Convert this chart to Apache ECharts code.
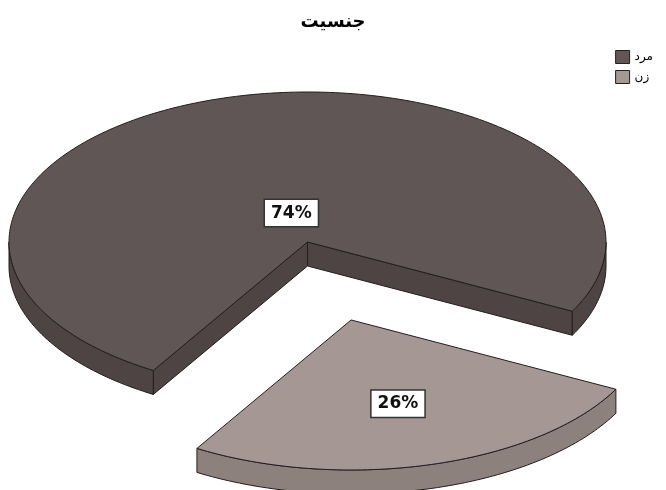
<!DOCTYPE html>
<html>
<head>
<meta charset="utf-8">
<script src="https://cdn.jsdelivr.net/npm/echarts@6/dist/echarts.min.js"></script>
<style>
  html, body { margin: 0; padding: 0; background: #ffffff; }
  #chart { width: 666px; height: 490px; }
</style>
</head>
<body>
<div id="chart"></div>
<script>
// Gender share, drawn as a tilted pie with the second slice pulled out
const chartTitle = 'جنسیت';
const categories = ['مرد', 'زن'];
const values = [74, 26];

// Look of the pie
const topColors = ['#605655', '#a49794'];
const sideColors = ['#4d4443', '#8d817e'];
const edgeColor = '#241d1d';
const START_DEG = 121.1;      // where the first slice begins, clockwise from 3 o'clock
const DEPTH = 0.16;           // slab thickness in y-axis units
const EXPLODE = [0, 0.54];    // how far each slice is pulled out (radius units)
const LABEL_R = [0.2, 0.58];  // label distance from each slice's tip

const total = values.reduce((a, b) => a + b, 0);
const spans = values.map(v => v / total * Math.PI * 2);
const starts = [];
let acc = START_DEG * Math.PI / 180;
spans.forEach(s => { starts.push(acc); acc += s; });

function makeRender(i) {
  return function (params, api) {
    const a0 = starts[i];
    const a1 = a0 + spans[i];
    const mid = (a0 + a1) / 2;
    const ox = EXPLODE[i] * Math.cos(mid);
    const oy = EXPLODE[i] * Math.sin(mid);
    const P = (t, r, d) => api.coord([ox + r * Math.cos(t), oy + r * Math.sin(t) + d]);
    const arc = (lo, hi, d) => {
      const n = Math.max(8, Math.ceil((hi - lo) / 0.02));
      const pts = [];
      for (let k = 0; k <= n; k++) pts.push(P(lo + (hi - lo) * k / n, 1, d));
      return pts;
    };
    const children = [];

    // radial walls facing the viewer
    const wall = t => ({
      type: 'polygon',
      shape: { points: [P(t, 0, 0), P(t, 1, 0), P(t, 1, DEPTH), P(t, 0, DEPTH)] },
      style: { fill: sideColors[i], stroke: edgeColor, lineWidth: 1 }
    });
    if (-Math.cos(a0) > 0) children.push(wall(a0));
    if (Math.cos(a1) > 0) children.push(wall(a1));

    // curved rim, only the front half is visible
    const kFrom = Math.floor(a0 / (2 * Math.PI)) - 1;
    const kTo = Math.ceil(a1 / (2 * Math.PI)) + 1;
    for (let k = kFrom; k <= kTo; k++) {
      const lo = Math.max(a0, 2 * Math.PI * k);
      const hi = Math.min(a1, 2 * Math.PI * k + Math.PI);
      if (hi - lo > 1e-4) {
        const pts = arc(lo, hi, 0).concat(arc(lo, hi, DEPTH).reverse());
        children.push({
          type: 'polygon',
          shape: { points: pts },
          style: { fill: sideColors[i], stroke: edgeColor, lineWidth: 1 }
        });
      }
    }

    // top face
    children.push({
      type: 'polygon',
      shape: { points: [P(0, 0, 0)].concat(arc(a0, a1, 0)) },
      style: { fill: topColors[i], stroke: edgeColor, lineWidth: 1 }
    });

    // percentage label
    const lp = P(mid, LABEL_R[i], 0);
    children.push({
      type: 'text',
      x: lp[0],
      y: lp[1],
      style: {
        text: Math.round(values[i] / total * 100) + '%',
        font: 'bold 17px "DejaVu Sans"',
        fill: '#111111',
        align: 'center',
        verticalAlign: 'middle',
        backgroundColor: '#ffffff',
        borderColor: '#333333',
        borderWidth: 1.5,
        padding: [5, 6, 4, 6]
      }
    });

    return { type: 'group', children: children };
  };
}

const chart = echarts.init(document.getElementById('chart'), null, { renderer: 'canvas' });
chart.setOption({
  animation: false,
  backgroundColor: '#ffffff',
  title: {
    text: chartTitle,
    left: 'center',
    top: 2,
    textStyle: { fontFamily: '"DejaVu Sans"', fontSize: 18, fontWeight: 'bold', color: '#000000', lineHeight: 30 }
  },
  legend: {
    orient: 'vertical',
    right: 8,
    top: 45,
    icon: 'rect',
    itemWidth: 14,
    itemHeight: 13,
    itemGap: 6,
    data: categories,
    itemStyle: { borderColor: '#222222', borderWidth: 1 },
    textStyle: { fontFamily: '"DejaVu Sans"', fontSize: 12, color: '#000000' }
  },
  grid: { left: 9, right: 60, top: 92, bottom: 5 },
  xAxis: {
    type: 'value', min: -1, max: 1,
    show: false
  },
  yAxis: {
    type: 'value', min: -1, max: 1.62, inverse: true,
    show: false
  },
  series: categories.map((name, i) => ({
    type: 'custom',
    name: name,
    clip: false,
    itemStyle: { color: topColors[i] },
    renderItem: makeRender(i),
    data: [{ name: name, value: [0, 0, values[i]] }]
  }))
});
</script>
</body>
</html>
